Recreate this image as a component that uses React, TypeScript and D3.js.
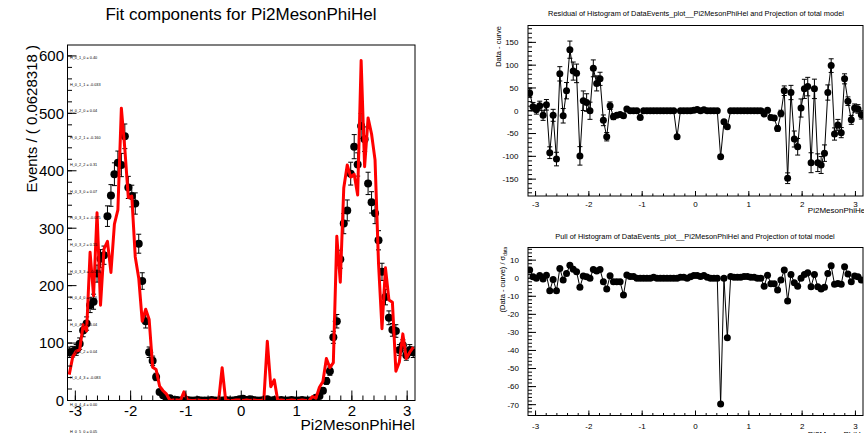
import React from 'react';
import * as d3 from 'd3';

// 100 bins over [-pi, pi]
const NBINS = 100;
const BIN_W = (2 * Math.PI) / NBINS;

// events per bin (data histogram)
const events = [
  84, 85, 88, 99, 122, 134, 166, 172, 221, 247,
  253, 321, 357, 394, 414, 410, 460, 371, 356, 343,
  273, 208, 138, 84, 69, 41, 15, 9, 0, 4,
  1, 1, 0, 0, 1, 0, 0, 1, 0, 0,
  0, 1, 0, 0, 0, 1, 0, 0, 1, 2,
  3, 1, 2, 1, 0, 0, 1, 2, 0, 1,
  0, 1, 0, 0, 1, 0, 0, 1, 0, 0,
  0, 5, 8, 17, 34, 51, 110, 138, 246, 308,
  331, 395, 442, 411, 478, 455, 378, 345, 326, 279,
  224, 180, 144, 123, 121, 88, 96, 79, 88, 84,
];

// projection of total model at bin centres (red curve)
const model = [
  45, 76, 86, 88, 132, 121, 258, 182, 327, 166,
  264, 277, 223, 307, 332, 509, 438, 353, 356, 250,
  213, 138, 159, 141, 58, 54, 25, 17, 11, 0,
  1, 1, 0, 15, 1, 0, 0, 1, 0, 0,
  0, 1, 0, 0, 57, 1, 0, 0, 1, 1,
  0, 1, 0, 1, 0, 0, 1, 103, 24, 36,
  0, 1, 0, 0, 1, 0, 0, 1, 0, 0,
  7, 4, 23, 33, 73, 57, 66, 286, 206, 370,
  410, 389, 394, 358, 592, 407, 492, 464, 419, 239,
  125, 231, 175, 171, 51, 67, 116, 73, 84, 93,
];

// data - curve
const residuals = [
  39, 9, 2, 11, -10, 13, -92, -10, -106, 81,
  -11, 44, 134, 87, 82, -99, 22, 18, 0, 93,
  60, 70, -21, -57, 11, -13, -10, -8, -11, 4,
  0, 0, 0, -15, 0, 0, 0, 0, 0, 0,
  0, 0, 0, 0, -57, 0, 0, 0, 0, 1,
  3, 0, 2, 0, 0, 0, 0, -101, -24, -35,
  0, 0, 0, 0, 0, 0, 0, 0, 0, 0,
  -7, 1, -15, -16, -39, -6, 44, -148, 40, -62,
  -79, 6, 48, 53, -114, 48, -114, -119, -93, 40,
  99, -51, -31, -48, 70, 21, -20, 6, 4, -9,
];

// (data - curve) / sigma_data
const pulls = [
  4.5, 0.8, 0, 1.5, -0.5, 1.7, -7, -0.7, -7, 5.4,
  -1, 2.6, 7.2, 5, 3.6, -5, 1.2, 0.8, 0, 4.8,
  4, 4.8, -2, -6, 1.4, -2, -2, -2, -9.3, 1.8,
  1, 1, 0, 0, 0, 0, 0, 0.5, 0, 0,
  0, 0, 0, 0, 0, 0.5, 0.5, 0, 0.8, 1.5,
  1.5, 1, 1.5, 0.5, 0, 0, 0, -69.6, 0, -33,
  1, 0.5, 0.5, 0.5, 1, 1, 0.5, 0.5, 0, 0,
  -4.5, 1.7, -3, -3, -6.5, -1, 4.5, -12.6, 2, -2.5,
  -4.4, 0, 2, 3, -4.7, 2, -4.7, -6, -5, 2.6,
  6.9, -3.4, -2.9, -3.4, 6.3, 2.3, -2, 1.2, 0.8, -1,
];

const momentLabels = [
  'H_0_1_0 = 0.40', 'H_0_1_1 = -0.033', 'H_0_2_0 = 0.04', 'H_0_2_1 = -0.160',
  'H_0_2_2 = 0.31', 'H_0_3_0 = 0.07', 'H_0_3_1 = -0.075', 'H_0_3_2 = 0.15',
  'H_0_3_3 = -0.038', 'H_0_4_0 = 0.06', 'H_0_4_1 = 0.04', 'H_0_4_2 = 0.04',
  'H_0_4_3 = -0.083', 'H_0_4_4 = 0.00', 'H_0_5_0 = 0.05',
];

const xMajor = [-3, -2, -1, 0, 1, 2, 3];
const mainYMajor = [0, 100, 200, 300, 400, 500, 600];
const resYMajor = [-150, -100, -50, 0, 50, 100, 150];
const pullYMajor = [-70, -60, -50, -40, -30, -20, -10, 0, 10];

const FONT = "'Liberation Sans', Arial, Helvetica, sans-serif";

const binCenter = (i: number) => -Math.PI + (i + 0.5) * BIN_W;
const xMinor = d3.range(-3.2, 3.21, 0.2).filter(v => v > -Math.PI && v < Math.PI);

function Frame({ x, y }: any) {
  const [x0, x1] = x.range();
  const [y0, y1] = y.range();
  return <rect x={x0} y={y1} width={x1 - x0} height={y0 - y1} fill="none" stroke="#000" strokeWidth={1} />;
}

function XAxis({ x, y, maj, min, fs, base }: any) {
  const y0 = y.range()[0];
  return (
    <g>
      {xMinor.map((v, i) => (
        <line key={'m' + i} x1={x(v)} x2={x(v)} y1={y0} y2={y0 - min} stroke="#000" />
      ))}
      {xMajor.map(v => (
        <g key={v}>
          <line x1={x(v)} x2={x(v)} y1={y0} y2={y0 - maj} stroke="#000" />
          <text x={x(v)} y={base} fontSize={fs} textAnchor="middle" fontFamily={FONT}>{v}</text>
        </g>
      ))}
    </g>
  );
}

function YAxis({ x, y, majors, minors, maj, min, fs, right }: any) {
  const x0 = x.range()[0];
  return (
    <g>
      {minors.map((v: number, i: number) => (
        <line key={'m' + i} x1={x0} x2={x0 + min} y1={y(v)} y2={y(v)} stroke="#000" />
      ))}
      {majors.map((v: number) => (
        <g key={v}>
          <line x1={x0} x2={x0 + maj} y1={y(v)} y2={y(v)} stroke="#000" />
          <text x={right} y={y(v)} dy="0.36em" fontSize={fs} textAnchor="end" fontFamily={FONT}>{v}</text>
        </g>
      ))}
    </g>
  );
}

export default function App() {
  // main pad
  const mx = d3.scaleLinear().domain([-Math.PI, Math.PI]).range([67.5, 415]);
  const my = d3.scaleLinear().domain([0, 619]).range([400.5, 45]);
  // residual pad
  const rx = d3.scaleLinear().domain([-Math.PI, Math.PI]).range([528, 863]);
  const ry = d3.scaleLinear().domain([-187, 187]).range([196, 25.5]);
  // pull pad
  const px = d3.scaleLinear().domain([-Math.PI, Math.PI]).range([528, 863]);
  const py = d3.scaleLinear().domain([-76, 17]).range([415.5, 247.5]);

  const curve = d3.line<number>().x((d, i) => mx(binCenter(i))).y(d => my(d));
  const resLine = d3.line<number>().x((d, i) => rx(binCenter(i))).y(d => ry(d));
  const pullLine = d3.line<number>().x((d, i) => px(binCenter(i))).y(d => py(d));

  return (
    <div style={{ position: 'fixed', left: 0, top: 0, width: 864, height: 433, background: '#fff' }}>
      <svg width={864} height={433} style={{ display: 'block' }}>
        <defs>
          <clipPath id="clipMain"><rect x={67.5} y={45} width={347.5} height={355.5} /></clipPath>
          <clipPath id="clipRes"><rect x={528} y={25.5} width={335} height={170.5} /></clipPath>
          <clipPath id="clipPull"><rect x={528} y={247.5} width={335} height={168} /></clipPath>
        </defs>

        {/* ---------- main pad ---------- */}
        <text x={241} y={20} fontSize={17} textAnchor="middle" fontFamily={FONT}>Fit components for Pi2MesonPhiHel</text>
        <g clipPath="url(#clipMain)">
          {events.map((n, i) => {
            const cx = mx(binCenter(i));
            const e = Math.sqrt(n);
            return (
              <g key={i}>
                {n > 0 && (
                  <g stroke="#000" strokeWidth={1}>
                    <line x1={cx} x2={cx} y1={my(n - e)} y2={my(n + e)} />
                    <line x1={cx - 2.5} x2={cx + 2.5} y1={my(n - e)} y2={my(n - e)} />
                    <line x1={cx - 2.5} x2={cx + 2.5} y1={my(n + e)} y2={my(n + e)} />
                  </g>
                )}
                <circle cx={cx} cy={my(n)} r={4} fill="#000" />
              </g>
            );
          })}
          <path d={curve(model) || ''} fill="none" stroke="#ff0000" strokeWidth={3} strokeLinejoin="round" />
        </g>
        <Frame x={mx} y={my} />
        <XAxis x={mx} y={my} maj={10} min={5} fs={15} base={416} />
        <YAxis x={mx} y={my} majors={mainYMajor} minors={d3.range(0, 620, 20)} maj={9} min={4.5} fs={15} right={64} />
        <text x={415} y={430} fontSize={15.5} textAnchor="end" fontFamily={FONT}>Pi2MesonPhiHel</text>
        <text transform="translate(36.5,45) rotate(-90)" fontSize={15} textAnchor="end" fontFamily={FONT}>Events / ( 0.0628318 )</text>
        {momentLabels.map((t, i) => (
          <text key={t} x={70} y={59 + i * 26.7} fontSize={3.8} fontFamily={FONT}>{t}</text>
        ))}

        {/* ---------- residual pad ---------- */}
        <text x={696} y={16} fontSize={7.4} textAnchor="middle" fontFamily={FONT}>Residual of Histogram of DataEvents_plot__Pi2MesonPhiHel and Projection of total model</text>
        <g clipPath="url(#clipRes)">
          <path d={resLine(residuals) || ''} fill="none" stroke="#000" strokeWidth={1} />
          {residuals.map((r, i) => {
            const cx = rx(binCenter(i));
            const e = Math.sqrt(events[i]);
            return (
              <g key={i}>
                {e > 0 && (
                  <g stroke="#000" strokeWidth={1}>
                    <line x1={cx} x2={cx} y1={ry(r - e)} y2={ry(r + e)} />
                    <line x1={cx - 2.5} x2={cx + 2.5} y1={ry(r - e)} y2={ry(r - e)} />
                    <line x1={cx - 2.5} x2={cx + 2.5} y1={ry(r + e)} y2={ry(r + e)} />
                  </g>
                )}
                <circle cx={cx} cy={ry(r)} r={3.5} fill="#000" />
              </g>
            );
          })}
        </g>
        <Frame x={rx} y={ry} />
        <XAxis x={rx} y={ry} maj={5} min={2.5} fs={8} base={207} />
        <YAxis x={rx} y={ry} majors={resYMajor} minors={d3.range(-180, 181, 10)} maj={8} min={4} fs={8} right={518.5} />
        <text x={867} y={213} fontSize={8} textAnchor="end" fontFamily={FONT}>Pi2MesonPhiHel</text>
        <text transform="translate(501,26) rotate(-90)" fontSize={7.5} textAnchor="end" fontFamily={FONT}>Data - curve</text>

        {/* ---------- pull pad ---------- */}
        <text x={695} y={238.5} fontSize={7.4} textAnchor="middle" fontFamily={FONT}>Pull of Histogram of DataEvents_plot__Pi2MesonPhiHel and Projection of total model</text>
        <g clipPath="url(#clipPull)">
          <path d={pullLine(pulls) || ''} fill="none" stroke="#000" strokeWidth={1} />
          {pulls.map((p, i) => (
            <circle key={i} cx={px(binCenter(i))} cy={py(p)} r={3.5} fill="#000" />
          ))}
        </g>
        <Frame x={px} y={py} />
        <XAxis x={px} y={py} maj={5} min={2.5} fs={8} base={428.5} />
        <YAxis x={px} y={py} majors={pullYMajor} minors={d3.range(-76, 17, 2)} maj={8} min={4} fs={8} right={519} />
        <text x={867} y={437} fontSize={8} textAnchor="end" fontFamily={FONT}>Pi2MesonPhiHel</text>
        <text transform="translate(505,247) rotate(-90)" fontSize={7.5} textAnchor="end" fontFamily={FONT}>
          (Data - curve) / σ<tspan fontSize={4.5} dy={2}>data</tspan>
        </text>
      </svg>
    </div>
  );
}
